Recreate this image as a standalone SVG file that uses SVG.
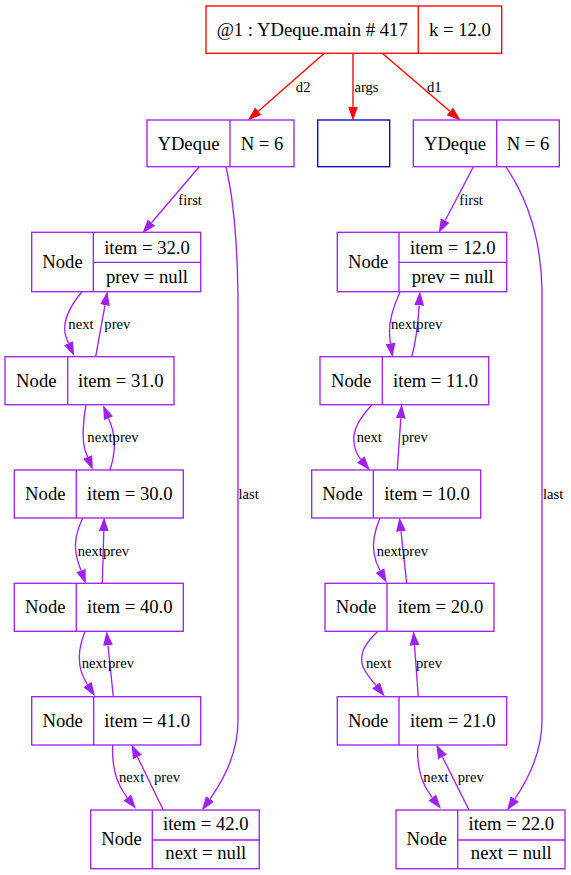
<svg xmlns="http://www.w3.org/2000/svg" width="571" height="875" viewBox="0 0 571 875">
<defs>
<style>
.n{fill:#fff;stroke:#a020f0;stroke-width:1.33}
.nl{stroke:#a020f0;stroke-width:1.33;fill:none}
.e{fill:none;stroke:#a020f0;stroke-width:1.33}
.r{fill:none;stroke:#ff0000;stroke-width:1.33}
.t{font-family:"Liberation Serif","Times New Roman",serif;font-size:18.67px;text-anchor:middle;fill:#000}
.l{font-family:"Liberation Serif","Times New Roman",serif;font-size:14.67px;fill:#000}
</style>
<marker id="ap" markerUnits="userSpaceOnUse" markerWidth="14" markerHeight="10" viewBox="0 0 13.3 9.33" refX="0" refY="4.67" orient="auto"><path d="M0,0 L13.3,4.67 L0,9.33 z" fill="#a020f0"/></marker>
<marker id="ar" markerUnits="userSpaceOnUse" markerWidth="14" markerHeight="10" viewBox="0 0 13.3 9.33" refX="0" refY="4.67" orient="auto"><path d="M0,0 L13.3,4.67 L0,9.33 z" fill="#ff0000"/></marker>
</defs>
<rect width="571" height="875" fill="#fff"/>

<g id="edges">
<path class="r" d="M324.3,53.3 L258.3,111.2" marker-end="url(#ar)"/>
<path class="r" d="M353,53.3 L353,106.7" marker-end="url(#ar)"/>
<path class="r" d="M382.3,53.3 L449.9,111.3" marker-end="url(#ar)"/>
<text class="l" x="303.2" y="91.7" text-anchor="middle">d2</text>
<text class="l" x="366.5" y="91.7" text-anchor="middle">args</text>
<text class="l" x="434.3" y="91.7" text-anchor="middle">d1</text>

<!-- left column -->
<path class="e" d="M199,167 L151.5,222.7" marker-end="url(#ap)"/>
<text class="l" x="178.3" y="205">first</text>
<path class="e" d="M226,167 C236,210 238,260 238,310 L238,720 C238,752 225,778 210,799" marker-end="url(#ap)"/>
<text class="l" x="238.5" y="499">last</text>

<path class="e" d="M82,291.7 C70,306 63,320 65,333 C65.8,337 67,340 68.5,343.3" marker-end="url(#ap)"/>
<path class="e" d="M95.7,356.7 L105,305.1" marker-end="url(#ap)"/>
<text class="l" x="68.3" y="329.3">next</text>
<text class="l" x="104.3" y="329.3">prev</text>

<path class="e" d="M86,405 C83,420 82,440 85,450 C86,453 86.8,455 87.6,457" marker-end="url(#ap)"/>
<path class="e" d="M110,470 C114,458 116,445 113,432 C112,426 110.5,423 108.5,418.2" marker-end="url(#ap)"/>
<text class="l" x="87.3" y="442.3">next</text>
<text class="l" x="112.6" y="442.3">prev</text>

<path class="e" d="M82.7,518 C77,530 74,542 76,553 C77,560 79,565 81,570.5" marker-end="url(#ap)"/>
<path class="e" d="M102.3,583.3 L103.8,531.3" marker-end="url(#ap)"/>
<text class="l" x="77.7" y="555.7">next</text>
<text class="l" x="103" y="555.7">prev</text>

<path class="e" d="M85,631.3 C80,644 78,656 80,666 C81,673 84,679 87.5,684.5" marker-end="url(#ap)"/>
<path class="e" d="M113.3,696.7 L108,645.3" marker-end="url(#ap)"/>
<text class="l" x="81.7" y="668.3">next</text>
<text class="l" x="108" y="668.3">prev</text>

<path class="e" d="M112.7,745 C112,760 114,774 120,786 C122,790 124.5,794 127.3,797.6" marker-end="url(#ap)"/>
<path class="e" d="M163.3,810 L137.5,757" marker-end="url(#ap)"/>
<text class="l" x="119" y="781.7">next</text>
<text class="l" x="154" y="781.7">prev</text>

<!-- right column -->
<path class="e" d="M473.3,167 L445.2,220.5" marker-end="url(#ap)"/>
<text class="l" x="459.3" y="205">first</text>
<path class="e" d="M506,167 C525,195 541,235 542,290 L542,720 C542,752 529,778 514.8,799" marker-end="url(#ap)"/>
<text class="l" x="543" y="499">last</text>

<path class="e" d="M400,292 C394,305 389,320 389.5,333 C389.7,337 390,340 390.5,343.4" marker-end="url(#ap)"/>
<path class="e" d="M411.7,356.7 C415,345 418,325 419.2,305.4" marker-end="url(#ap)"/>
<text class="l" x="391" y="329.3">next</text>
<text class="l" x="416.3" y="329.3">prev</text>

<path class="e" d="M371.7,405 C360,418 352,430 354,443 C355,450 357,455 360.8,459.5" marker-end="url(#ap)"/>
<path class="e" d="M397.3,470 L400.8,418.3" marker-end="url(#ap)"/>
<text class="l" x="356.7" y="442.3">next</text>
<text class="l" x="401.7" y="442.3">prev</text>

<path class="e" d="M380,518 C375,530 372,542 374,553 C375,560 377,565 380,570.5" marker-end="url(#ap)"/>
<path class="e" d="M406.7,583.3 L401,531.3" marker-end="url(#ap)"/>
<text class="l" x="376.7" y="555.7">next</text>
<text class="l" x="402" y="555.7">prev</text>

<path class="e" d="M378,631.3 C366,642 360,653 362,663 C363,671 370,678 376,685.5" marker-end="url(#ap)"/>
<path class="e" d="M418.3,696.7 L414.5,645.3" marker-end="url(#ap)"/>
<text class="l" x="366" y="668.3">next</text>
<text class="l" x="416" y="668.3">prev</text>

<path class="e" d="M417.7,745 C417,760 419,774 425,786 C427,790 429.5,794 432.3,797.6" marker-end="url(#ap)"/>
<path class="e" d="M469,810 L442.5,757" marker-end="url(#ap)"/>
<text class="l" x="423.3" y="781.7">next</text>
<text class="l" x="457.7" y="781.7">prev</text>
</g>

<g id="main">
<rect x="206" y="6" width="295.7" height="47.3" fill="#fff" stroke="#ff0000" stroke-width="1.33"/>
<line x1="418.3" y1="6" x2="418.3" y2="53.3" stroke="#ff0000" stroke-width="1.33"/>
<text class="t" x="312.2" y="35.5">@1 : YDeque.main # 417</text>
<text class="t" x="460" y="35.5">k = 12.0</text>
</g>

<g id="d2">
<rect class="n" x="147" y="120" width="147" height="46.7"/>
<line class="nl" x1="230" y1="120" x2="230" y2="166.7"/>
<text class="t" x="188.5" y="150">YDeque</text>
<text class="t" x="262" y="150">N = 6</text>
</g>

<g id="args">
<rect x="317.7" y="120" width="72" height="46.7" fill="#fff" stroke="#0000cd" stroke-width="1.33"/>
</g>

<g id="d1">
<rect class="n" x="413.3" y="120" width="146" height="46.7"/>
<line class="nl" x1="496.7" y1="120" x2="496.7" y2="166.7"/>
<text class="t" x="455" y="150">YDeque</text>
<text class="t" x="528" y="150">N = 6</text>
</g>

<g id="L1">
<rect class="n" x="31.7" y="232.3" width="169" height="59.4"/>
<line class="nl" x1="93.3" y1="232.3" x2="93.3" y2="291.7"/>
<line class="nl" x1="93.3" y1="262.3" x2="200.7" y2="262.3"/>
<text class="t" x="62.5" y="268.3">Node</text>
<text class="t" x="147" y="254">item = 32.0</text>
<text class="t" x="147" y="283.3">prev = null</text>
</g>
<g id="L2">
<rect class="n" x="5" y="356.7" width="169" height="48"/>
<line class="nl" x1="67.7" y1="356.7" x2="67.7" y2="404.7"/>
<text class="t" x="36.3" y="386.7">Node</text>
<text class="t" x="120.8" y="386.7">item = 31.0</text>
</g>
<g id="L3">
<rect class="n" x="14.3" y="470" width="169" height="48"/>
<line class="nl" x1="76.3" y1="470" x2="76.3" y2="518"/>
<text class="t" x="45.3" y="500">Node</text>
<text class="t" x="129.8" y="500">item = 30.0</text>
</g>
<g id="L4">
<rect class="n" x="14.3" y="583.3" width="169" height="48"/>
<line class="nl" x1="76.3" y1="583.3" x2="76.3" y2="631.3"/>
<text class="t" x="45.3" y="613.3">Node</text>
<text class="t" x="129.8" y="613.3">item = 40.0</text>
</g>
<g id="L5">
<rect class="n" x="31.7" y="696.7" width="169" height="48.3"/>
<line class="nl" x1="93.7" y1="696.7" x2="93.7" y2="745"/>
<text class="t" x="62.7" y="726.7">Node</text>
<text class="t" x="147.2" y="726.7">item = 41.0</text>
</g>
<g id="L6">
<rect class="n" x="90.7" y="810" width="168.6" height="58.7"/>
<line class="nl" x1="152.3" y1="810" x2="152.3" y2="868.7"/>
<line class="nl" x1="152.3" y1="840" x2="259.3" y2="840"/>
<text class="t" x="121.5" y="845.3">Node</text>
<text class="t" x="205.8" y="830">item = 42.0</text>
<text class="t" x="205.8" y="859.3">next = null</text>
</g>

<g id="R1">
<rect class="n" x="337.3" y="232.3" width="169.4" height="59.4"/>
<line class="nl" x1="399" y1="232.3" x2="399" y2="291.7"/>
<line class="nl" x1="399" y1="262.3" x2="506.7" y2="262.3"/>
<text class="t" x="368.2" y="268.3">Node</text>
<text class="t" x="452.8" y="254">item = 12.0</text>
<text class="t" x="452.8" y="283.3">prev = null</text>
</g>
<g id="R2">
<rect class="n" x="320" y="356.7" width="168.7" height="48"/>
<line class="nl" x1="382.3" y1="356.7" x2="382.3" y2="404.7"/>
<text class="t" x="351.2" y="386.7">Node</text>
<text class="t" x="435.5" y="386.7">item = 11.0</text>
</g>
<g id="R3">
<rect class="n" x="311.7" y="470" width="169" height="48"/>
<line class="nl" x1="373.3" y1="470" x2="373.3" y2="518"/>
<text class="t" x="342.5" y="500">Node</text>
<text class="t" x="427" y="500">item = 10.0</text>
</g>
<g id="R4">
<rect class="n" x="325" y="583.3" width="169" height="48"/>
<line class="nl" x1="387" y1="583.3" x2="387" y2="631.3"/>
<text class="t" x="356" y="613.3">Node</text>
<text class="t" x="440.5" y="613.3">item = 20.0</text>
</g>
<g id="R5">
<rect class="n" x="337.3" y="696.7" width="169.4" height="48.3"/>
<line class="nl" x1="399" y1="696.7" x2="399" y2="745"/>
<text class="t" x="368.2" y="726.7">Node</text>
<text class="t" x="452.8" y="726.7">item = 21.0</text>
</g>
<g id="R6">
<rect class="n" x="396" y="810" width="169" height="58.7"/>
<line class="nl" x1="457.7" y1="810" x2="457.7" y2="868.7"/>
<line class="nl" x1="457.7" y1="840" x2="565" y2="840"/>
<text class="t" x="426.8" y="845.3">Node</text>
<text class="t" x="511.3" y="830">item = 22.0</text>
<text class="t" x="511.3" y="859.3">next = null</text>
</g>
</svg>
